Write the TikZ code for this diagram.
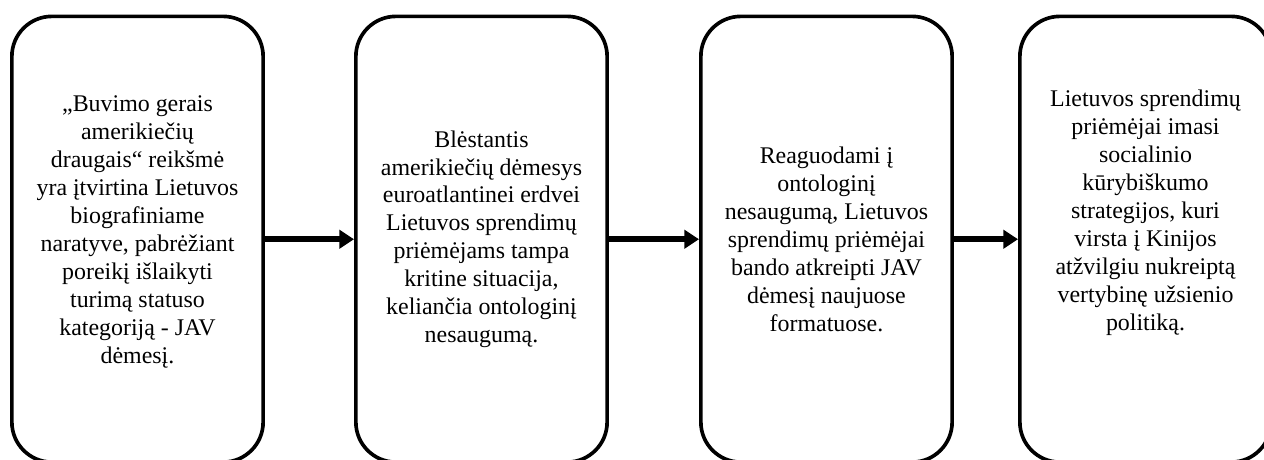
\documentclass[tikz,border=0pt]{standalone}
\usepackage{fontspec}
\setmainfont{Liberation Serif}
\usetikzlibrary{arrows.meta}
\tikzset{
  stagebox/.style={draw, line width=2.6pt, rounded corners=1cm, minimum width=6.28cm,
    minimum height=11.14cm, inner sep=0pt},
  stagetext/.style={align=center, inner sep=0pt, font=\fontsize{17}{19.9}\selectfont},
  flow/.style={-{Triangle[length=10.5pt,width=13pt]}, line width=4pt}
}
\begin{document}
\begin{tikzpicture}[x=0.025cm, y=0.025cm]
\clip (0,0) rectangle (1264,460);
% boxes
\node[stagebox] (s1) at (137.5,220.75) {};
\node[stagebox] (s2) at (481.5,220.75) {};
\node[stagebox] (s3) at (826.5,220.75) {};
\node[stagebox] (s4) at (1145.5,220.75) {};
% texts
\node[stagetext, yshift=0.18cm] (t1) at (s1) {„Buvimo gerais\\ amerikiečių\\ draugais“ reikšmė\\
  yra įtvirtina Lietuvos\\ biografiniame\\ naratyve, pabrėžiant\\ poreikį išlaikyti\\
  turimą statuso\\ kategoriją - JAV\\ dėmesį.};
\node[stagetext] (t2) at (s2) {Blėstantis\\ amerikiečių dėmesys\\ euroatlantinei erdvei\\
  Lietuvos sprendimų\\ priėmėjams tampa\\ kritine situacija,\\ keliančia ontologinį\\ nesaugumą.};
\node[stagetext] (t3) at (s3) {Reaguodami į\\ ontologinį\\ nesaugumą, Lietuvos\\
  sprendimų priėmėjai\\ bando atkreipti JAV\\ dėmesį naujuose\\ formatuose.};
\node[stagetext, yshift=0.66cm] (t4) at (s4) {Lietuvos sprendimų\\ priėmėjai imasi\\ socialinio\\
  kūrybiškumo\\ strategijos, kuri\\ virsta į Kinijos\\ atžvilgiu nukreiptą\\
  vertybinę užsienio\\ politiką.};

\draw[flow] (s1) -- (s2);
\draw[flow] (s2) -- (s3);
\draw[flow] (s3) -- (s4);
\end{tikzpicture}
\end{document}
